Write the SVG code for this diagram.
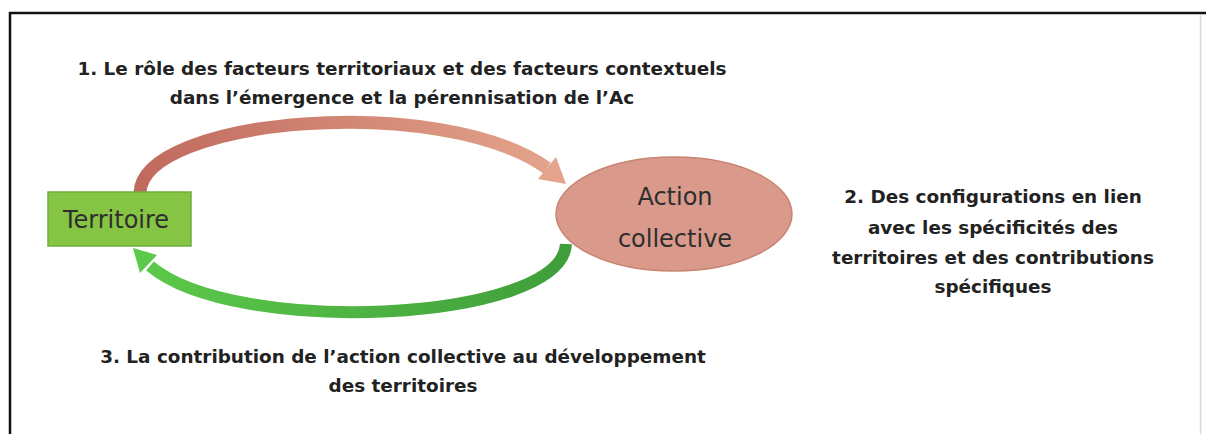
<svg xmlns="http://www.w3.org/2000/svg" width="1206" height="434" viewBox="0 0 1206 434">
  <style>
    .lbl { font-family: "DejaVu Sans", "Liberation Sans", sans-serif; font-weight: bold; font-size: 18.4px; fill: #222; text-anchor: middle; }
    .node { font-family: "DejaVu Sans", "Liberation Sans", sans-serif; font-size: 24px; fill: #2e2e2e; text-anchor: middle; }
  </style>
  <defs>
    <linearGradient id="gRed" gradientUnits="userSpaceOnUse" x1="140" y1="190" x2="560" y2="180">
      <stop offset="0" stop-color="#c06a5e"/>
      <stop offset="1" stop-color="#e4a48c"/>
    </linearGradient>
    <linearGradient id="gGreen" gradientUnits="userSpaceOnUse" x1="566" y1="245" x2="140" y2="260">
      <stop offset="0" stop-color="#3f9e3a"/>
      <stop offset="1" stop-color="#5cc94a"/>
    </linearGradient>
  </defs>
  <rect width="1206" height="434" fill="#ffffff"/>
  <g id="frame">
    <line x1="9" y1="13" x2="1206" y2="13" stroke="#111" stroke-width="2.5"/>
    <line x1="10" y1="12" x2="10" y2="434" stroke="#111" stroke-width="2.5"/>
    <line x1="1200.5" y1="15" x2="1200.5" y2="434" stroke="#d8d8d8" stroke-width="1.5"/>
  </g>
  <g id="connectors">
    <g id="arrow-red">
      <path d="M 140 193 C 142 118, 440 92, 547 168" fill="none" stroke="url(#gRed)" stroke-width="13"/>
      <polygon points="538,179 556,157 566,184" fill="#e4a48c"/>
    </g>
    <g id="arrow-green">
      <path d="M 566 244 C 562 322, 235 338, 150 266" fill="none" stroke="url(#gGreen)" stroke-width="12"/>
      <polygon points="140,273 157,255 133,248" fill="#5cc94a"/>
    </g>
  </g>
  <g id="node-territoire">
    <rect x="48" y="192" width="143" height="54" fill="#86c444" stroke="#72ad3c" stroke-width="1.5"/>
    <text class="node" x="116" y="228">Territoire</text>
  </g>
  <g id="node-action">
    <ellipse cx="674" cy="214" rx="118" ry="57" fill="#d99a8c" stroke="#c98472" stroke-width="1.5"/>
    <text class="node" x="675" y="205">Action</text>
    <text class="node" x="675" y="247">collective</text>
  </g>
  <g id="label-1">
    <text class="lbl" x="402" y="75">1. Le rôle des facteurs territoriaux et des facteurs contextuels</text>
    <text class="lbl" x="402" y="104">dans l’émergence et la pérennisation de l’Ac</text>
  </g>
  <g id="label-2">
    <text class="lbl" x="993" y="203">2. Des configurations en lien</text>
    <text class="lbl" x="993" y="234">avec les spécificités des</text>
    <text class="lbl" x="993" y="264">territoires et des contributions</text>
    <text class="lbl" x="993" y="293">spécifiques</text>
  </g>
  <g id="label-3">
    <text class="lbl" x="403" y="363">3. La contribution de l’action collective au développement</text>
    <text class="lbl" x="403" y="392">des territoires</text>
  </g>
</svg>
